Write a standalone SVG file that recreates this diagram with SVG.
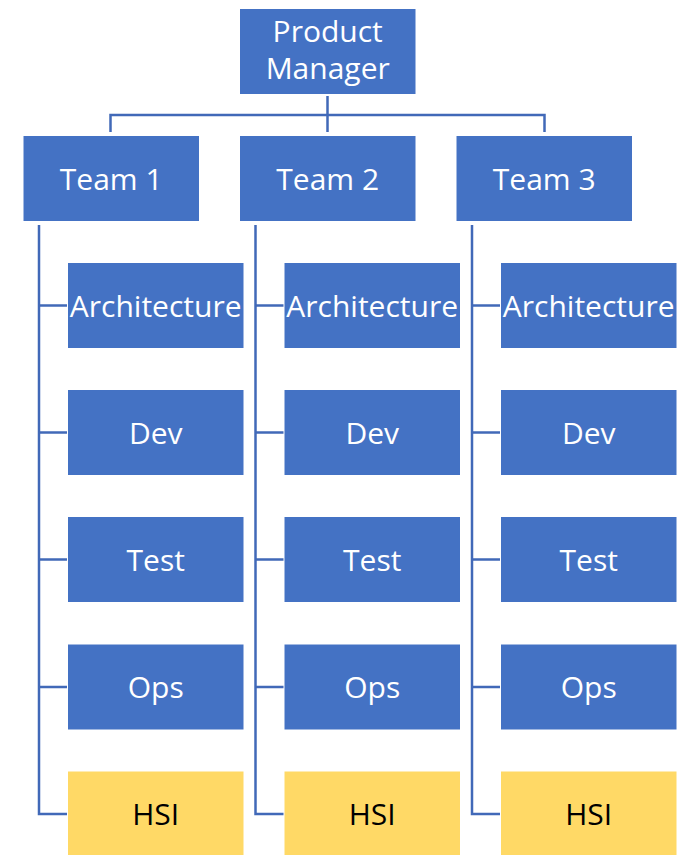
<svg xmlns="http://www.w3.org/2000/svg" width="685" height="855" viewBox="0 0 685 855">
  <style>
    .box { fill: #4472C4; stroke: #FFFFFF; stroke-width: 1; }
    .hsi { fill: #FFD966; stroke: #FFFFFF; stroke-width: 1; }
    .lbl { font-family: "Open Sans", "Liberation Sans", sans-serif; font-size: 30px; fill: #FFFFFF; text-anchor: middle; }
    .dark { fill: #000000; }
    .conn { fill: none; stroke: #4169B8; stroke-width: 2.5; }
  </style>
  <rect width="685" height="855" fill="#FFFFFF"/>

  <!-- connectors -->
  <g id="connectors" class="conn">
    <path d="M327.5,96 V115 M110.5,132 V115 H544.5 V132 M327.5,115 V132"/>
    <!-- team 1 branch -->
    <path d="M39,225 V814 H67.5 M39,305.5 H67.5 M39,432.5 H67.5 M39,559.5 H67.5 M39,687 H67.5"/>
    <!-- team 2 branch -->
    <path d="M255.5,225 V814 H284 M255.5,305.5 H284 M255.5,432.5 H284 M255.5,559.5 H284 M255.5,687 H284"/>
    <!-- team 3 branch -->
    <path d="M472,225 V814 H500.5 M472,305.5 H500.5 M472,432.5 H500.5 M472,559.5 H500.5 M472,687 H500.5"/>
  </g>

  <!-- top -->
  <g id="product-manager">
    <rect class="box" x="239.5" y="8.5" width="176.5" height="86"/>
    <text class="lbl" x="327.7" y="42">Product</text>
    <text class="lbl" x="327.7" y="79">Manager</text>
  </g>

  <!-- teams -->
  <g id="team-1">
    <rect class="box" x="23" y="135.5" width="176.5" height="86"/>
    <text class="lbl" x="111.2" y="189.5">Team 1</text>
  </g>
  <g id="team-2">
    <rect class="box" x="239.5" y="135.5" width="176.5" height="86"/>
    <text class="lbl" x="327.7" y="189.5">Team 2</text>
  </g>
  <g id="team-3">
    <rect class="box" x="456" y="135.5" width="176.5" height="86"/>
    <text class="lbl" x="544.2" y="189.5">Team 3</text>
  </g>

  <!-- team 1 members -->
  <g id="t1-architecture">
    <rect class="box" x="67.5" y="262.5" width="176.5" height="86"/>
    <text class="lbl" x="155.7" y="316.5">Architecture</text>
  </g>
  <g id="t1-dev">
    <rect class="box" x="67.5" y="389.5" width="176.5" height="86"/>
    <text class="lbl" x="155.7" y="443.5">Dev</text>
  </g>
  <g id="t1-test">
    <rect class="box" x="67.5" y="516.5" width="176.5" height="86"/>
    <text class="lbl" x="155.7" y="570.5">Test</text>
  </g>
  <g id="t1-ops">
    <rect class="box" x="67.5" y="644" width="176.5" height="86"/>
    <text class="lbl" x="155.7" y="698">Ops</text>
  </g>
  <g id="t1-hsi">
    <rect class="hsi" x="67.5" y="771" width="176.5" height="86"/>
    <text class="lbl dark" x="155.7" y="825">HSI</text>
  </g>

  <!-- team 2 members -->
  <g id="t2-architecture">
    <rect class="box" x="284" y="262.5" width="176.5" height="86"/>
    <text class="lbl" x="372.2" y="316.5">Architecture</text>
  </g>
  <g id="t2-dev">
    <rect class="box" x="284" y="389.5" width="176.5" height="86"/>
    <text class="lbl" x="372.2" y="443.5">Dev</text>
  </g>
  <g id="t2-test">
    <rect class="box" x="284" y="516.5" width="176.5" height="86"/>
    <text class="lbl" x="372.2" y="570.5">Test</text>
  </g>
  <g id="t2-ops">
    <rect class="box" x="284" y="644" width="176.5" height="86"/>
    <text class="lbl" x="372.2" y="698">Ops</text>
  </g>
  <g id="t2-hsi">
    <rect class="hsi" x="284" y="771" width="176.5" height="86"/>
    <text class="lbl dark" x="372.2" y="825">HSI</text>
  </g>

  <!-- team 3 members -->
  <g id="t3-architecture">
    <rect class="box" x="500.5" y="262.5" width="176.5" height="86"/>
    <text class="lbl" x="588.7" y="316.5">Architecture</text>
  </g>
  <g id="t3-dev">
    <rect class="box" x="500.5" y="389.5" width="176.5" height="86"/>
    <text class="lbl" x="588.7" y="443.5">Dev</text>
  </g>
  <g id="t3-test">
    <rect class="box" x="500.5" y="516.5" width="176.5" height="86"/>
    <text class="lbl" x="588.7" y="570.5">Test</text>
  </g>
  <g id="t3-ops">
    <rect class="box" x="500.5" y="644" width="176.5" height="86"/>
    <text class="lbl" x="588.7" y="698">Ops</text>
  </g>
  <g id="t3-hsi">
    <rect class="hsi" x="500.5" y="771" width="176.5" height="86"/>
    <text class="lbl dark" x="588.7" y="825">HSI</text>
  </g>
</svg>
